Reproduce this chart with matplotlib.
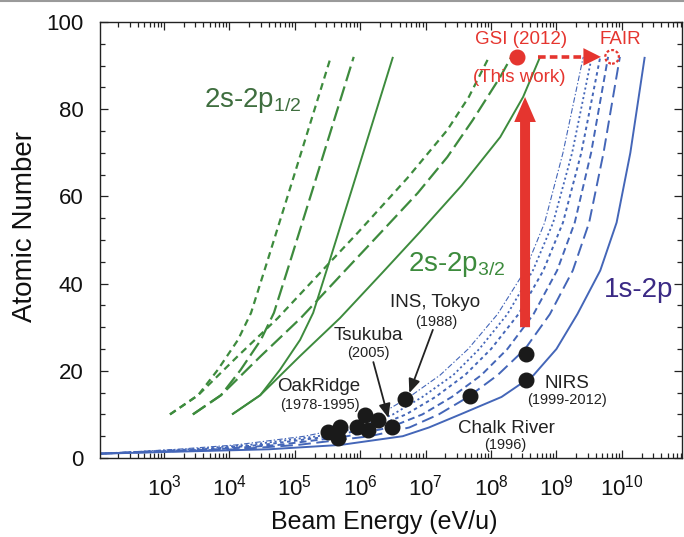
import numpy as np
import matplotlib
matplotlib.use('Agg')
import matplotlib.pyplot as plt
import matplotlib.transforms as mtransforms
from matplotlib.patches import Circle
from matplotlib.lines import Line2D
from matplotlib.ticker import FixedLocator, LogLocator, MultipleLocator, NullFormatter, LogFormatterMathtext

plt.rcParams['font.family'] = ['Liberation Sans', 'DejaVu Sans']
plt.rcParams['mathtext.fontset'] = 'custom'
plt.rcParams['mathtext.rm'] = 'Liberation Sans'
plt.rcParams['mathtext.it'] = 'Liberation Sans:italic'
plt.rcParams['lines.scale_dashes'] = False

# ---- curves: log10(beam energy in eV/u) against atomic number ----
# 2s-2p1/2 (three curves on a common Z grid)
z_half = [10, 14.4, 20.2, 27.1, 33.3, 44.7, 62, 77, 92]
e_half_solid = [4.04, 4.47, 4.77, 5.08, 5.28, 5.52, 5.88, 6.19, 6.50]
e_half_long = [3.44, 3.87, 4.17, 4.48, 4.68, 4.92, 5.28, 5.59, 5.90]
e_half_short = [3.09, 3.52, 3.82, 4.13, 4.33, 4.57, 4.93, 5.24, 5.55]

# 2s-2p3/2
z_32_solid = [10, 14.4, 23.4, 32.1, 42.7, 51.8, 62.5, 73.6, 82.8, 92]
e_32_solid = [4.04, 4.47, 5.08, 5.69, 6.35, 6.91, 7.55, 8.14, 8.49, 8.75]
z_32_long = [10, 14.4, 23.4, 32.1, 42.7, 51.8, 60.8, 69.0, 77.5, 87.4, 92]
e_32_long = [3.44, 3.87, 4.48, 5.09, 5.75, 6.32, 6.88, 7.33, 7.72, 8.14, 8.31]
z_32_short = [10, 14.4, 23.4, 32.1, 42.7, 51.8, 64.2, 75.2, 82.8, 92]
e_32_short = [3.09, 3.52, 4.13, 4.74, 5.40, 5.97, 6.72, 7.33, 7.66, 7.97]

# 1s-2p (six curves on a common Z grid)
z_1s = [1, 2, 3, 5, 7, 10, 14, 19, 25, 33, 43, 54, 70, 92]
e_1s_a = [2.05, 4.6, 5.7, 6.65, 7.05, 7.53, 8.16, 8.65, 9.0, 9.32, 9.67, 9.92, 10.13, 10.35]
e_1s_b = [2.02, 4.1, 5.05, 6.15, 6.75, 7.2, 7.65, 8.1, 8.52, 8.9, 9.25, 9.5, 9.72, 9.97]
e_1s_c = [2.02, 3.8, 4.75, 5.8, 6.45, 6.95, 7.4, 7.85, 8.25, 8.65, 9.01, 9.28, 9.53, 9.79]
e_1s_d = [2.02, 3.6, 4.5, 5.55, 6.2, 6.7, 7.15, 7.6, 8.0, 8.42, 8.80, 9.1, 9.38, 9.67]
e_1s_e = [2.02, 3.4, 4.3, 5.35, 6.0, 6.5, 6.95, 7.42, 7.82, 8.25, 8.64, 8.95, 9.24, 9.54]
e_1s_f = [2.02, 3.2, 4.1, 5.15, 5.8, 6.3, 6.75, 7.22, 7.65, 8.1, 8.52, 8.82, 9.1, 9.41]

# measurements (log10 E, Z)
oak_e = [5.51, 5.69, 5.66, 5.95, 6.07, 6.12, 6.27]
oak_z = [6.0, 7.2, 4.6, 7.2, 9.9, 6.4, 8.7]
tsukuba = (6.48, 7.2)
ins_tokyo = (6.68, 13.5)
chalk_river = (7.68, 14.2)
nirs_e = [8.54, 8.54]
nirs_z = [23.9, 17.9]
gsi = (8.40, 92)
fair = (9.85, 92)
gsi_arrow_e = 8.52
gsi_arrow_z = (30, 82.8)

GREEN = '#3d8b3d'
GREEN_DARK = '#3f6e3f'
BLUE = '#4466b8'
INDIGO = '#3b2a85'
RED = '#e5352f'
INK = '#222222'

fig = plt.figure(figsize=(6.84, 5.37), dpi=100)
ax = fig.add_axes([100 / 684, 79 / 537, 582 / 684, 436 / 537])
ax.set_xscale('log')
ax.set_xlim(10 ** 2.02, 10 ** 10.92)
ax.set_ylim(0, 100)


def curve(e, z, **kw):
    ax.plot(10 ** np.asarray(e), z, solid_capstyle='butt', dash_capstyle='butt', **kw)


# 1s-2p family
curve(e_1s_f, z_1s, color=BLUE, lw=0.8, dashes=(4, 1.5, 1, 1.5))
curve(e_1s_e, z_1s, color=BLUE, lw=1.3, dashes=(1.5, 2))
curve(e_1s_d, z_1s, color=BLUE, lw=1.4, dashes=(2.5, 2.5))
curve(e_1s_c, z_1s, color=BLUE, lw=1.4, dashes=(5, 3))
curve(e_1s_b, z_1s, color=BLUE, lw=1.4, dashes=(9, 4))
curve(e_1s_a, z_1s, color=BLUE, lw=1.4)

# 2s-2p families
curve(e_half_short, z_half, color=GREEN, lw=1.6, dashes=(5, 3.5))
curve(e_half_long, z_half, color=GREEN, lw=1.6, dashes=(11, 4))
curve(e_half_solid, z_half, color=GREEN, lw=1.4)
curve(e_32_short, z_32_short, color=GREEN, lw=1.6, dashes=(5, 3.5))
curve(e_32_long, z_32_long, color=GREEN, lw=1.6, dashes=(11, 4))
curve(e_32_solid, z_32_solid, color=GREEN, lw=1.4)

# experiments
dot = dict(marker='o', ms=10.5, color='#1a1a1a', ls='none', zorder=5)
ax.plot(10 ** np.array(oak_e), oak_z, **dot)
ax.plot(10 ** tsukuba[0], tsukuba[1], **dot)
ax.plot(10 ** ins_tokyo[0], ins_tokyo[1], **dot)
ax.plot(10 ** chalk_river[0], chalk_river[1], **dot)
ax.plot(10 ** np.array(nirs_e), nirs_z, **dot)

# GSI point, upward arrow and the step towards FAIR
ax.plot(10 ** gsi[0], gsi[1], marker='o', ms=10.5, color=RED, zorder=6)
ax.annotate('', xy=(10 ** gsi_arrow_e, gsi_arrow_z[1]), xytext=(10 ** gsi_arrow_e, gsi_arrow_z[0]),
            arrowprops=dict(arrowstyle='simple,head_length=1.5,head_width=1.3,tail_width=0.6',
                            mutation_scale=12, color=RED, lw=0, shrinkA=0, shrinkB=0), zorder=6)
ax.plot([10 ** 8.72, 10 ** 9.46], [92, 92], color=RED, lw=2.6, dashes=(5.5, 3), zorder=6)
ax.annotate('', xy=(10 ** 9.68, 92), xytext=(10 ** 9.44, 92),
            arrowprops=dict(arrowstyle='-|>,head_length=0.9,head_width=0.45', mutation_scale=14,
                            color=RED, lw=0, shrinkA=0, shrinkB=0), zorder=6)
trans = fig.dpi_scale_trans + mtransforms.ScaledTranslation(10 ** fair[0], fair[1], ax.transData)
ax.add_patch(Circle((0, 0), 0.068, transform=trans, fill=False, ec=RED, lw=1.6,
                    ls=(0, (2, 1.5)), zorder=6))

# labels
ax.text(10 ** 4.36, 82.1, r'2s-2p$_{1/2}$', color=GREEN_DARK, fontsize=20, ha='center', va='center')
ax.text(10 ** 7.48, 44.3, r'2s-2p$_{3/2}$', color=GREEN, fontsize=20, ha='center', va='center')
ax.text(10 ** 10.26, 38.6, '1s-2p', color=INDIGO, fontsize=20, ha='center', va='center')
ax.text(10 ** 8.46, 96.1, 'GSI (2012)', color=RED, fontsize=13.5, ha='center', va='center')
ax.text(10 ** 8.43, 87.2, '(This work)', color=RED, fontsize=13.5, ha='center', va='center')
ax.text(10 ** 9.97, 96.1, 'FAIR', color=RED, fontsize=13.5, ha='center', va='center')

labels = [
    ('INS, Tokyo', '(1988)', 7.14, 35.6, 7.16, 31.2),
    ('Tsukuba', '(2005)', 6.13, 28.0, 6.12, 24.1),
    ('OakRidge', '(1978-1995)', 5.37, 16.5, 5.39, 12.2),
    ('NIRS', '(1999-2012)', 9.16, 17.0, 9.16, 13.4),
    ('Chalk River', '(1996)', 8.23, 6.7, 8.21, 2.9),
]
for name, years, xe, xz, ye, yz in labels:
    ax.text(10 ** xe, xz, name, color=INK, fontsize=13.5, ha='center', va='center')
    ax.text(10 ** ye, yz, years, color=INK, fontsize=10.5, ha='center', va='center')

pointer = dict(arrowstyle='-|>,head_length=0.6,head_width=0.25', mutation_scale=14,
               color=INK, lw=1.3, shrinkA=0, shrinkB=0)
ax.annotate('', xy=(10 ** 6.75, 14.9), xytext=(10 ** 7.11, 29.4), arrowprops=pointer)
ax.annotate('', xy=(10 ** 6.43, 9.2), xytext=(10 ** 6.20, 22.0), arrowprops=pointer)

# axes styling
ax.xaxis.set_major_locator(FixedLocator([10.0 ** k for k in range(3, 11)]))
ax.xaxis.set_major_formatter(LogFormatterMathtext())
ax.xaxis.set_minor_locator(LogLocator(base=10, subs=np.arange(2, 10), numticks=100))
ax.xaxis.set_minor_formatter(NullFormatter())
ax.yaxis.set_major_locator(MultipleLocator(20))
ax.yaxis.set_minor_locator(MultipleLocator(5))
ax.tick_params(which='both', direction='in', top=True, right=True, colors=INK, width=0.9)
ax.tick_params(which='major', length=6, labelsize=16, labelcolor='#111111')
ax.tick_params(which='minor', length=3.5)
ax.tick_params(axis='x', which='major', pad=12)
ax.tick_params(axis='y', which='major', pad=12)
for s in ax.spines.values():
    s.set_color(INK)
    s.set_linewidth(1.0)

ax.set_xlabel('Beam Energy (eV/u)', fontsize=18, color='#111111')
ax.set_ylabel('Atomic Number', fontsize=20, color='#111111')
ax.xaxis.set_label_coords(0.488, -0.119)
ax.yaxis.set_label_coords(-0.107, 0.532)

fig.add_artist(Line2D([0, 1], [0.998, 0.998], transform=fig.transFigure, color='#9a9a9a', lw=1.5))

fig.savefig('out.png', dpi=100)
